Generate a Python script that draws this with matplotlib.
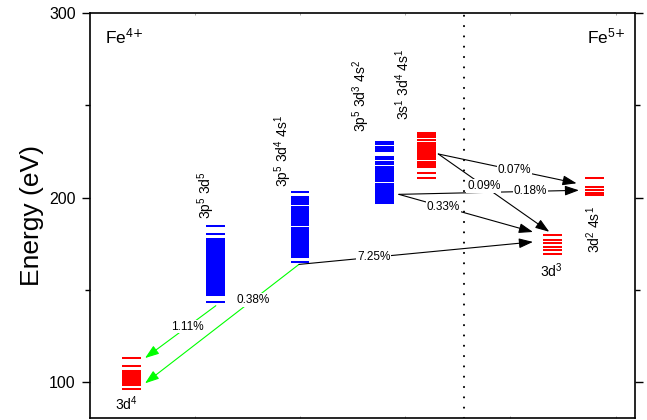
import matplotlib
matplotlib.use("Agg")
import matplotlib.pyplot as plt
from matplotlib.patches import FancyArrowPatch
from matplotlib.ticker import MultipleLocator, FixedLocator

plt.rcParams["font.family"] = ["Liberation Sans", "DejaVu Sans"]
plt.rcParams["mathtext.default"] = "regular"

# ---- energy levels (eV) of each configuration ----
levels_3d4 = [112.8, 108.7, 106.0, 105.3, 104.5, 103.9, 103.0, 102.4, 101.5,
              100.9, 100.2, 99.4, 98.6, 96.0]
levels_3p5_3d5 = [184.5, 180.2, 177.5, 176.8, 176.0, 175.3, 174.5, 173.3, 172.5,
                  171.7, 171.0, 169.8, 169.0, 168.2, 167.5, 166.7, 166.0, 165.2,
                  164.5, 163.7, 163.0, 162.3, 161.1, 160.3, 159.5, 158.8, 158.0,
                  157.3, 156.5, 155.8, 155.0, 154.3, 153.5, 152.8, 152.0, 151.3,
                  150.5, 149.8, 149.0, 148.3, 147.6, 147.3, 143.5]
levels_3p5_3d4_4s1 = [202.9, 200.1, 199.4, 198.6, 197.9, 197.1, 196.4, 195.2,
                      194.4, 193.6, 192.9, 192.1, 191.4, 190.7, 189.5, 188.7,
                      187.9, 187.2, 186.4, 185.7, 185.0, 183.8, 183.0, 182.2,
                      181.5, 180.7, 180.0, 179.2, 178.5, 177.7, 177.0, 176.2,
                      175.5, 174.7, 174.0, 173.2, 172.5, 171.8, 170.6, 169.8,
                      169.0, 168.3, 167.6, 165.2]
levels_3p5_3d3_4s2 = [230.0, 228.9, 227.6, 226.6, 225.5, 222.2, 221.5, 220.8,
                      219.6, 218.8, 218.0, 216.8, 216.0, 215.2, 214.5, 213.7,
                      213.0, 212.3, 211.1, 210.3, 209.5, 208.8, 207.6, 206.8,
                      206.0, 205.3, 204.5, 203.8, 202.6, 201.8, 201.1, 199.9,
                      199.1, 198.3, 197.6, 197.3]
levels_3s1_3d4_4s1 = [234.9, 234.0, 232.7, 231.3, 229.5, 228.8, 228.1, 227.3,
                      226.6, 225.8, 225.1, 224.3, 223.6, 222.4, 221.6, 220.8,
                      219.6, 218.8, 218.0, 217.3, 216.8, 213.5, 210.5]
levels_3d3 = [180.0, 177.3, 175.4, 173.5, 171.5, 169.5]
levels_3d2_4s1 = [210.8, 205.6, 204.2, 202.8, 201.4]

config_levels = {
    "3d4": levels_3d4,
    "3p5 3d5": levels_3p5_3d5,
    "3p5 3d4 4s1": levels_3p5_3d4_4s1,
    "3p5 3d3 4s2": levels_3p5_3d3_4s2,
    "3s1 3d4 4s1": levels_3s1_3d4_4s1,
    "3d3": levels_3d3,
    "3d2 4s1": levels_3d2_4s1,
}

# ---- decay branches: source, target, start energy, end energy, branching ----
transitions = [
    ("3p5 3d5", "3d4", 141.4, 113.0, "1.11%"),
    ("3p5 3d4 4s1", "3d4", 163.8, 99.3, "0.38%"),
    ("3p5 3d4 4s1", "3d3", 163.8, 176.0, "7.25%"),
    ("3p5 3d3 4s2", "3d3", 201.8, 181.4, "0.33%"),
    ("3p5 3d3 4s2", "3d2 4s1", 201.8, 204.0, "0.18%"),
    ("3s1 3d4 4s1", "3d2 4s1", 223.7, 207.8, "0.07%"),
    ("3s1 3d4 4s1", "3d3", 223.7, 181.5, "0.09%"),
]

# ---- layout ----
col_x = {"3d4": 0.4, "3p5 3d5": 1.2, "3p5 3d4 4s1": 2.0, "3p5 3d3 4s2": 2.8,
         "3s1 3d4 4s1": 3.2, "3d3": 4.4, "3d2 4s1": 4.8}
col_color = {"3d4": "#ff0000", "3p5 3d5": "#0000ff", "3p5 3d4 4s1": "#0000ff",
             "3p5 3d3 4s2": "#0000ff", "3s1 3d4 4s1": "#ff0000",
             "3d3": "#ff0000", "3d2 4s1": "#ff0000"}
half_w = 0.09
# arrow offsets from column centres (start, end) and label position along arrow
arrow_geom = [(0.0, 0.127, 0.40, "#00ff00"),
              (-0.01, 0.127, 0.30, "#00ff00"),
              (-0.01, -0.185, 0.32, "black"),
              (0.14, -0.185, 0.33, "black"),
              (0.14, -0.148, 0.73, "black"),
              (0.115, -0.17, 0.55, "black"),
              (0.115, -0.03, 0.41, "black")]

fig = plt.figure(figsize=(6.47, 4.2), dpi=100)
ax = fig.add_axes([89.6 / 647, 2.0 / 420, (635 - 89.6) / 647, (418 - 13.3) / 420])
ax.set_xlim(0, 5.185)
ax.set_ylim(80.5, 300)

for name, lv in config_levels.items():
    x = col_x[name]
    ax.hlines(lv, x - half_w, x + half_w, colors=col_color[name], lw=1.45, zorder=2)

for (src, dst, e0, e1, lab), (dx0, dx1, frac, col) in zip(transitions, arrow_geom):
    x0 = col_x[src] + dx0
    x1 = col_x[dst] + dx1
    arr = FancyArrowPatch((x0, e0), (x1, e1),
                          arrowstyle="-|>,head_length=0.85,head_width=0.3",
                          mutation_scale=10, shrinkA=0, shrinkB=0,
                          color=col, lw=0.8, zorder=3)
    ax.add_patch(arr)
    ax.text(x0 + frac * (x1 - x0), e0 + frac * (e1 - e0), lab,
            fontsize=8.5, ha="center", va="center", zorder=4,
            bbox=dict(fc="white", ec="none", pad=0.6))

# ionisation boundary between Fe4+ and Fe5+
ax.axvline(3.56, color="black", lw=1.5, linestyle=(0, (0.05, 4.9)),
           dash_capstyle="round", zorder=1)

# configuration labels
lab_kw = dict(fontsize=10, rotation=90, ha="center")
ax.text(1.109, 188.6, "3p$^5$ 3d$^5$", va="bottom", **lab_kw)
ax.text(1.841, 206.0, "3p$^5$ 3d$^4$ 4s$^1$", va="bottom", **lab_kw)
ax.text(2.586, 235.8, "3p$^5$ 3d$^3$ 4s$^2$", va="bottom", **lab_kw)
ax.text(2.979, 242.1, "3s$^1$ 3d$^4$ 4s$^1$", va="bottom", **lab_kw)
ax.text(4.797, 195.5, "3d$^2$ 4s$^1$", va="top", **lab_kw)
ax.text(0.346, 88.0, "3d$^4$", fontsize=10, ha="center", va="center")
ax.text(4.386, 160.2, "3d$^3$", fontsize=10, ha="center", va="center")

ax.text(0.146, 283.8, r"Fe$^{4\text{+}}$", fontsize=12.5, ha="left", va="baseline")
ax.text(5.09, 283.8, r"Fe$^{5\text{+}}$", fontsize=12.5, ha="right", va="baseline")

# axes styling
for sp in ax.spines.values():
    sp.set_linewidth(1.2)
ax.yaxis.set_major_locator(FixedLocator([100, 200, 300]))
ax.yaxis.set_minor_locator(MultipleLocator(50))
ax.tick_params(axis="y", which="major", direction="out", length=6, width=1.0,
               labelsize=11.5, pad=4, left=True, right=True)
ax.tick_params(axis="y", which="minor", direction="out", length=3.5, width=1.0,
               left=True, right=True)
ax.set_xticks([1, 2, 3, 4, 5])
ax.tick_params(axis="x", which="major", direction="in", length=1.5, width=0.5,
               color="#888888", top=True, bottom=True,
               labelbottom=False, labeltop=False)
ax.set_ylabel("Energy (eV)", fontsize=19, labelpad=4)

fig.savefig("out.png", dpi=100)
